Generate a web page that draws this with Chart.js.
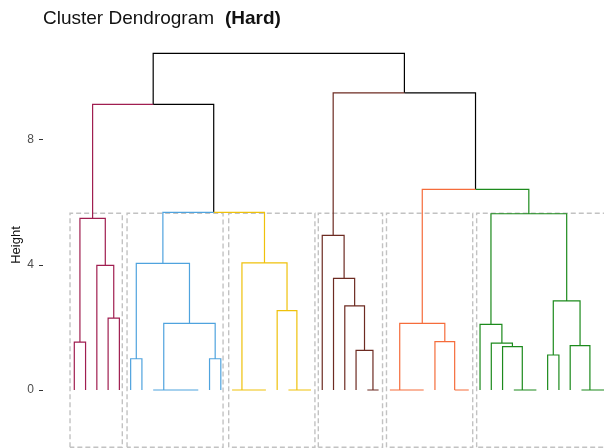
<!DOCTYPE html>
<html>
<head>
<meta charset="utf-8">
<script src="https://cdn.jsdelivr.net/npm/chart.js@4"></script>
<style>
  body { margin: 0; background: #fff; }
  #wrap { position: relative; width: 604px; height: 448px; }
  canvas { position: absolute; left: 0; top: 0; }
  .ttl { position: absolute; top: 8px; font-family: "Liberation Sans", Arial, sans-serif;
         font-size: 19px; line-height: 1; color: #111; white-space: nowrap; }
  #t1 { left: 43px; }
  #t2 { left: 225px; font-weight: bold; }
</style>
</head>
<body>
<div id="wrap">
  <canvas id="dend" width="604" height="448"></canvas>
  <div class="ttl" id="t1">Cluster Dendrogram</div>
  <div class="ttl" id="t2">(Hard)</div>
</div>
<script>
// x = leaf position (1..48), y = merge height
// merge: [left child x, right child x, height, left child height, right child height]
const crimsonMerges = [[1, 2, 1.53, 0, 0], [4, 5, 2.30, 0, 0], [3, 4.5, 3.99, 0, 2.30], [1.5, 3.75, 5.49, 1.53, 3.99]];
const blueMerges = [[6, 7, 1.00, 0, 0], [11, 12, 0, 0, 0], [10, 11.5, 0, 0, 0], [9, 10.75, 0, 0, 0], [8, 9.875, 0, 0, 0],
                    [13, 14, 1.00, 0, 0], [8.9375, 13.5, 2.13, 0, 1.00], [6.5, 11.22, 4.05, 1.00, 2.13]];
const yellowMerges = [[17, 18, 0, 0, 0], [16, 17.5, 0, 0, 0], [15, 16.75, 0, 0, 0], [21, 22, 0, 0, 0], [20, 21.5, 0, 0, 0],
                      [19, 20.75, 2.54, 0, 0], [15.875, 19.875, 4.07, 0, 2.54]];
const brownMerges = [[27, 28, 0, 0, 0], [26, 27.5, 1.27, 0, 0], [25, 26.75, 2.69, 0, 1.27], [24, 25.875, 3.57, 0, 2.69],
                     [23, 24.94, 4.95, 0, 3.57]];
const orangeMerges = [[31, 32, 0, 0, 0], [30, 31.5, 0, 0, 0], [29, 30.75, 0, 0, 0], [34.75, 36, 0, 0, 0],
                      [33, 34.75, 1.55, 0, 0], [29.875, 33.875, 2.13, 0, 1.55]];
const greenMerges = [[41, 42, 0, 0, 0], [40, 41.5, 0, 0, 0], [39, 40.75, 1.39, 0, 0], [38, 39.875, 1.50, 0, 1.39],
                     [37, 38.94, 2.10, 0, 1.50], [43, 44, 1.12, 0, 0], [47, 48, 0, 0, 0], [46, 47.5, 0, 0, 0],
                     [45, 46.75, 1.42, 0, 0], [43.5, 45.875, 2.85, 1.12, 1.42], [37.97, 44.69, 5.64, 2.10, 2.85]];

// links above the clusters: [child x, child height, parent x, parent height]
const crimsonLinks = [[2.625, 5.49, 8.0, 9.14]];
const blueLinks = [[8.86, 4.05, 13.37, 5.686]];
const yellowLinks = [[17.875, 4.07, 13.37, 5.686]];
const brownLinks = [[23.97, 4.95, 30.29, 9.51]];
const orangeLinks = [[31.875, 2.13, 36.6, 6.42]];
const greenLinks = [[41.33, 5.64, 36.6, 6.42]];
const blackLinks = [[13.37, 5.686, 8.0, 9.14], [8.0, 9.14, 19.15, 10.77], [30.29, 9.51, 19.15, 10.77], [36.6, 6.42, 30.29, 9.51]];

// cluster boxes
const rectLeft = [0.62, 5.68, 14.7, 22.65, 28.7, 36.7];
const rectRight = [5.26, 14.2, 22.35, 28.35, 36.35, 49.6];
const rectTop = 5.654;
const rectBottom = -1.83;

const yTickValues = [0, 4, 8];

function toPoints(merges, links) {
    const pts = [];
    merges.forEach(m => {
        pts.push({x: m[0], y: m[3]}, {x: m[0], y: m[2]}, {x: m[1], y: m[2]}, {x: m[1], y: m[4]});
        pts.push({x: m[1], y: null});
    });
    links.forEach(l => {
        pts.push({x: l[0], y: l[1]}, {x: l[0], y: l[3]}, {x: l[2], y: l[3]});
        pts.push({x: l[2], y: null});
    });
    return pts;
}

function rectPoints() {
    const pts = [];
    rectLeft.forEach((x1, i) => {
        const x2 = rectRight[i];
        pts.push({x: x1, y: rectBottom}, {x: x1, y: rectTop}, {x: x2, y: rectTop}, {x: x2, y: rectBottom}, {x: x1, y: rectBottom});
        pts.push({x: x1, y: null});
    });
    return pts;
}

function branch(pts, color) {
    return {
        data: pts, showLine: true, borderColor: color, borderWidth: 1.2,
        pointRadius: 0, borderJoinStyle: 'miter', borderCapStyle: 'butt', spanGaps: false, order: 0
    };
}

const font = "'Liberation Sans', Arial, sans-serif";

const chart = new Chart(document.getElementById('dend').getContext('2d'), {
    type: 'scatter',
    data: {
        datasets: [
            branch(toPoints(crimsonMerges, crimsonLinks), '#A01E50'),
            branch(toPoints(blueMerges, blueLinks), '#4FA3DE'),
            branch(toPoints(yellowMerges, yellowLinks), '#EFC10B'),
            branch(toPoints(brownMerges, brownLinks), '#6D2B22'),
            branch(toPoints(orangeMerges, orangeLinks), '#F56C3B'),
            branch(toPoints(greenMerges, greenLinks), '#1C8A1C'),
            branch(toPoints([], blackLinks), '#000000'),
            {
                data: rectPoints(), showLine: true, borderColor: '#C2C2C2', borderWidth: 1.4,
                borderDash: [5, 3], pointRadius: 0, spanGaps: false, order: 1
            }
        ]
    },
    options: {
        responsive: false,
        animation: false,
        layout: { padding: { top: 42, right: 0, bottom: 0, left: 0 } },
        plugins: { legend: { display: false }, tooltip: { enabled: false } },
        scales: {
            x: { type: 'linear', display: false, min: -1.777, max: 48.0 },
            y: {
                type: 'linear', min: -1.856, max: 11.136,
                afterBuildTicks: s => { s.ticks = yTickValues.map(v => ({ value: v })); },
                afterFit: s => { s.width = 43; s.paddingTop = 0; s.paddingBottom = 0; },
                grid: { drawOnChartArea: false, drawTicks: true, tickLength: 4, tickColor: '#333333', tickWidth: 1 },
                border: { display: false },
                ticks: { color: '#4D4D4D', font: { family: font, size: 12 }, padding: 5 },
                title: {
                    display: true, text: 'Height', color: '#111111',
                    font: { family: font, size: 13 }, padding: { top: 9, bottom: 0 }
                }
            }
        }
    }
});
</script>
</body>
</html>
